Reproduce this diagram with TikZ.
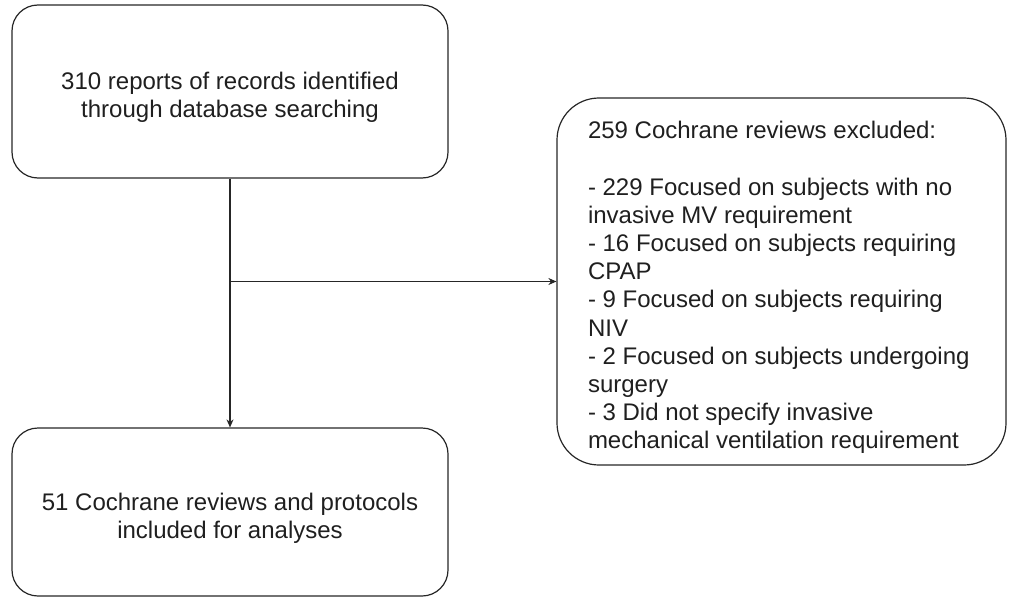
\documentclass[tikz,border=0pt]{standalone}
\usepackage{fontspec}
\setmainfont{Liberation Sans}
\usetikzlibrary{arrows.meta}
% struts for the first and last text line of a box
\newcommand{\topstrut}{\rule{0pt}{30pt}}
\newcommand{\botstrut}{\rule[-5.5pt]{0pt}{5.5pt}}

\begin{document}
\begin{tikzpicture}[x=1pt, y=-1pt,
  box/.style={draw=black!85, line width=1.2pt, rounded corners=26pt, inner sep=0pt,
    align=flush center, text width=420, inner xsep=8, text=black!88,
    font=\fontsize{24}{27.6}\selectfont,
    execute at begin node=\topstrut, execute at end node=\botstrut},
  link/.style={draw=black!85, line width=1.1pt, -{Stealth[length=8pt,width=7pt]}}]
\useasboundingbox (0,0) rectangle (1009,599);
\node[box, minimum height=173] (search) at (230,91.5)
  {310 reports of records identified\\through database searching};
\node[box, minimum height=168] (included) at (230,512)
  {51 Cochrane reviews and protocols\\included for analyses};
\node[box, rounded corners=42pt, align=flush left, text width=387, inner xsep=31,
  minimum height=367, font=\fontsize{24}{28.2}\selectfont] (excluded) at (781.5,281.5)
  {259 Cochrane reviews excluded:\\[\baselineskip]
   - 229 Focused on subjects with no\\invasive MV requirement\\
   - 16 Focused on subjects requiring\\CPAP\\
   - 9 Focused on subjects requiring\\NIV\\
   - 2 Focused on subjects undergoing\\surgery\\
   - 3 Did not specify invasive\\mechanical ventilation requirement};
\coordinate (split) at (search.south |- excluded.west);
\draw[link] (search.south) -- (included.north);
\draw[link] (split) -- (excluded.west);
\end{tikzpicture}
\end{document}
